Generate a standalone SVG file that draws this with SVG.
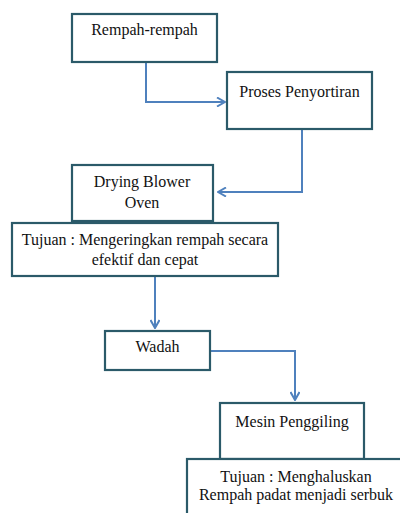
<svg xmlns="http://www.w3.org/2000/svg" width="400" height="513" viewBox="0 0 400 513">
<style>
.box{fill:#fff;stroke:#2B5A69;stroke-width:2.2}
.t{font-family:"Liberation Serif","Times New Roman",serif;font-size:16px;fill:#111;text-anchor:middle}
.c{fill:none;stroke:#4F81BD;stroke-width:2}
</style>
<defs>
<marker id="ah" viewBox="0 0 10 10" refX="9" refY="5" markerWidth="10" markerHeight="10" markerUnits="userSpaceOnUse" orient="auto">
<path d="M1,0.5 L9,5 L1,9.5" fill="none" stroke="#4F81BD" stroke-width="2"/>
</marker>
</defs>
<rect width="400" height="513" fill="#fff"/>
<g id="connectors">
<path class="c" d="M146,62 V102 H225" marker-end="url(#ah)"/>
<path class="c" d="M302,129 V192 H218" marker-end="url(#ah)"/>
<path class="c" d="M155,276 V328" marker-end="url(#ah)"/>
<path class="c" d="M210,351 H295 V400" marker-end="url(#ah)"/>
</g>
<g id="n1"><rect class="box" x="72" y="14" width="145" height="48"/><text class="t" x="144.5" y="35">Rempah-rempah</text></g>
<g id="n2"><rect class="box" x="227" y="72" width="145" height="57"/><text class="t" x="299.5" y="97">Proses Penyortiran</text></g>
<g id="n3"><rect class="box" x="72" y="165" width="141" height="56"/><text class="t" x="142" y="187">Drying Blower</text><text class="t" x="142" y="208">Oven</text></g>
<g id="n4"><rect class="box" x="12" y="223" width="266" height="53"/><text class="t" x="145" y="245">Tujuan : Mengeringkan rempah secara</text><text class="t" x="145" y="265">efektif dan cepat</text></g>
<g id="n5"><rect class="box" x="105" y="331" width="105" height="39"/><text class="t" x="157.5" y="352">Wadah</text></g>
<g id="n6"><rect class="box" x="220" y="403" width="144" height="56"/><text class="t" x="292" y="427">Mesin Penggiling</text></g>
<g id="n7"><rect class="box" x="187" y="459" width="220" height="70"/><text class="t" x="296" y="482">Tujuan : Menghaluskan</text><text class="t" x="296" y="500">Rempah padat menjadi serbuk</text></g>
</svg>
